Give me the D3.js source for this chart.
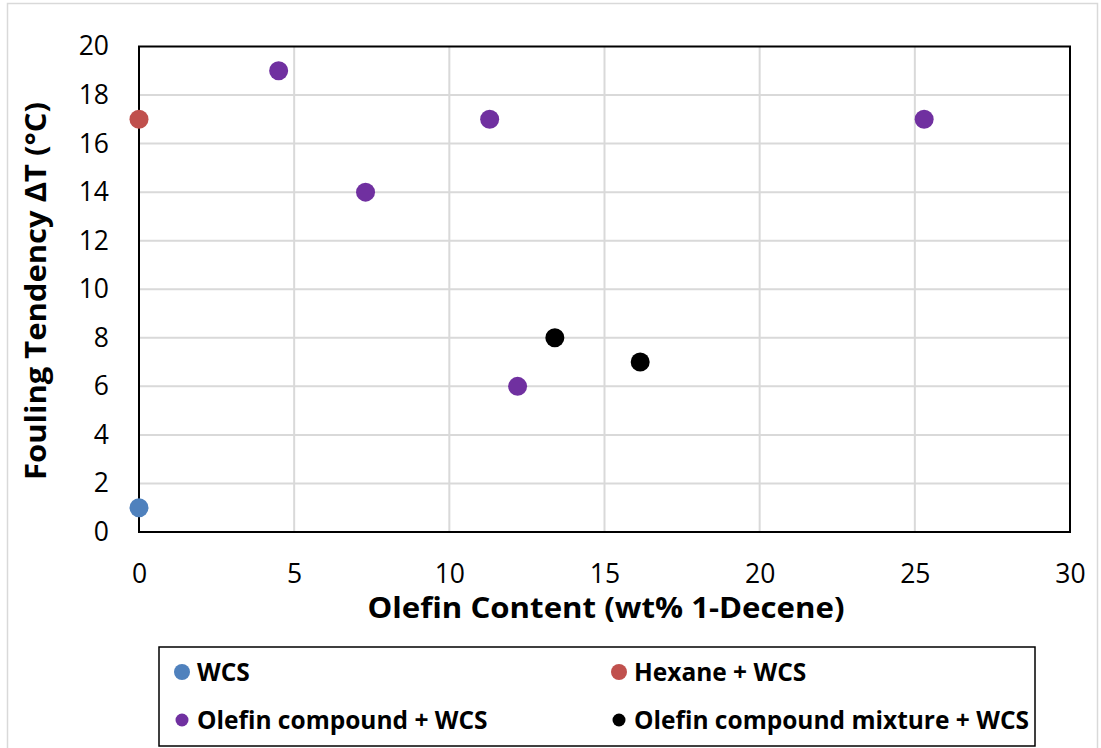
<!DOCTYPE html>
<html>
<head lang="en">
    <meta charset="UTF-8">
    <title>Fouling Tendency</title>
    <style>
        body { margin: 0; background: #fff; }
        text { font-family: "Open Sans", Lato, sans-serif; }
    </style>
</head>
<body>
<div id="chart"></div>
<script src="https://cdn.jsdelivr.net/npm/d3@7"></script>
<script>
    // series data
    var seriesNames = ["WCS", "Hexane + WCS", "Olefin compound + WCS", "Olefin compound mixture + WCS"];
    var seriesColors = ["#4f81bd", "#c0504d", "#7030a0", "#000000"];
    var wcsX = [0], wcsY = [1];
    var hexaneX = [0], hexaneY = [17];
    var olefinX = [4.5, 7.3, 11.3, 12.2, 25.3], olefinY = [19, 14, 17, 6, 17];
    var mixtureX = [13.4, 16.15], mixtureY = [8, 7];
    var xTicks = [0, 5, 10, 15, 20, 25, 30];
    var yTicks = [0, 2, 4, 6, 8, 10, 12, 14, 16, 18, 20];

    var W = 1101, H = 748;
    var plot = {left: 139, top: 46.5, right: 1070, bottom: 532};

    var svg = d3.select("#chart").append("svg")
        .attr("width", W).attr("height", H);

    // outer chart border
    svg.append("rect")
        .attr("x", 7.5).attr("y", 3.5)
        .attr("width", 1090).attr("height", 760)
        .attr("fill", "#fff").attr("stroke", "#d9d9d9").attr("stroke-width", 1.5);

    var x = d3.scaleLinear().domain([0, 30]).range([plot.left, plot.right]);
    var y = d3.scaleLinear().domain([0, 20]).range([plot.bottom, plot.top]);

    // gridlines
    svg.append("g").selectAll("line").data(xTicks.slice(1, -1)).enter().append("line")
        .attr("x1", d => x(d)).attr("x2", d => x(d))
        .attr("y1", plot.top).attr("y2", plot.bottom)
        .attr("stroke", "#d9d9d9").attr("stroke-width", 2);
    svg.append("g").selectAll("line").data(yTicks.slice(1, -1)).enter().append("line")
        .attr("x1", plot.left).attr("x2", plot.right)
        .attr("y1", d => y(d)).attr("y2", d => y(d))
        .attr("stroke", "#d9d9d9").attr("stroke-width", 2);

    // frame
    svg.append("rect")
        .attr("x", plot.left).attr("y", plot.top)
        .attr("width", plot.right - plot.left).attr("height", plot.bottom - plot.top)
        .attr("fill", "none").attr("stroke", "#000").attr("stroke-width", 2);

    // axes (tick labels only)
    var xAxis = d3.axisBottom(x).tickValues(xTicks).tickSize(0).tickPadding(0);
    var gx = svg.append("g").attr("transform", "translate(0," + (plot.bottom + 42) + ")").call(xAxis);
    gx.select(".domain").remove();
    gx.selectAll("text").attr("font-size", 26.5).attr("fill", "#000")
        .attr("font-family", "'Open Sans', sans-serif").attr("dy", "0.35em");

    var yAxis = d3.axisLeft(y).tickValues(yTicks).tickSize(0).tickPadding(0);
    var gy = svg.append("g").attr("transform", "translate(" + (plot.left - 30) + ",0)").call(yAxis);
    gy.select(".domain").remove();
    gy.selectAll("text").attr("font-size", 26.5).attr("fill", "#000")
        .attr("font-family", "'Open Sans', sans-serif");

    // axis titles
    svg.append("text")
        .attr("x", 606).attr("y", 618)
        .attr("text-anchor", "middle")
        .attr("font-size", 28).attr("font-weight", "bold")
        .attr("textLength", 477).attr("lengthAdjust", "spacingAndGlyphs")
        .text("Olefin Content (wt% 1-Decene)");
    svg.append("text")
        .attr("transform", "translate(46,291) rotate(-90)")
        .attr("text-anchor", "middle")
        .attr("font-size", 28).attr("font-weight", "bold")
        .attr("textLength", 378).attr("lengthAdjust", "spacingAndGlyphs")
        .text("Fouling Tendency ΔT (°C)");

    // points
    var allSeries = [
        {xs: wcsX, ys: wcsY},
        {xs: hexaneX, ys: hexaneY},
        {xs: olefinX, ys: olefinY},
        {xs: mixtureX, ys: mixtureY}
    ];
    allSeries.forEach(function(s, i) {
        svg.append("g").selectAll("circle").data(s.xs).enter().append("circle")
            .attr("cx", d => x(d))
            .attr("cy", (d, j) => y(s.ys[j]))
            .attr("r", 9.5)
            .attr("fill", seriesColors[i]);
    });

    // legend
    svg.append("rect")
        .attr("x", 159).attr("y", 647)
        .attr("width", 876).attr("height", 99)
        .attr("fill", "#fff").attr("stroke", "#000").attr("stroke-width", 1.5);
    var legendPos = [[182, 672], [619, 672], [182, 720], [619, 720]];
    var legendR = [8, 8, 6.5, 6.5];
    seriesNames.forEach(function(name, i) {
        var p = legendPos[i];
        svg.append("circle").attr("cx", p[0]).attr("cy", p[1]).attr("r", legendR[i])
            .attr("fill", seriesColors[i]);
        svg.append("text").attr("x", p[0] + 15).attr("y", p[1])
            .attr("dy", "0.36em")
            .attr("font-size", 24.5).attr("font-weight", "bold")
            .text(name);
    });
</script>
</body>
</html>
